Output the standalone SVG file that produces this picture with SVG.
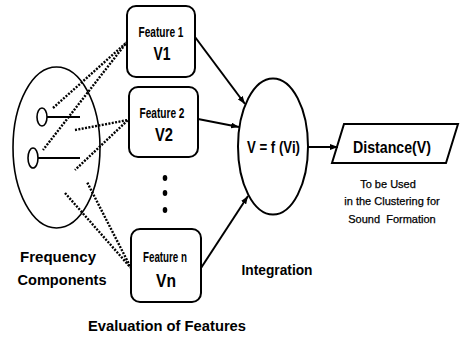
<svg xmlns="http://www.w3.org/2000/svg" width="460" height="339" viewBox="0 0 460 339">
  <style>
    .shape { fill: none; stroke: #000; stroke-width: 2; }
    .outline { fill: none; stroke: #000; stroke-width: 1.6; }
    .link { fill: none; stroke: #000; stroke-width: 2; }
    .dots { fill: none; stroke: #000; stroke-width: 2.4; stroke-dasharray: 2 1.4; }
    .thin { fill: none; stroke: #000; stroke-width: 1.6; }
    .label { font-family: "Liberation Sans", Arial, sans-serif; font-weight: bold; fill: #000; text-anchor: middle; }
    .note { font-family: "Liberation Sans", Arial, sans-serif; font-size: 11px; fill: #000; stroke: #000; stroke-width: 0.25; text-anchor: middle; }
  </style>
  <defs>
    <marker id="arrow" markerWidth="8" markerHeight="6" refX="8" refY="3" orient="auto" markerUnits="userSpaceOnUse">
      <path d="M0,0 L8,3 L0,6 Z" fill="#000"/>
    </marker>
  </defs>
  <rect width="460" height="339" fill="#fff"/>

  <!-- frequency components -->
  <g id="frequency-components">
    <ellipse class="outline" cx="56.5" cy="147.5" rx="43.5" ry="80.5"/>
    <ellipse class="thin" cx="42" cy="117" rx="5" ry="9"/>
    <line class="shape" x1="47" y1="117" x2="80" y2="117"/>
    <ellipse class="thin" cx="33" cy="158" rx="5" ry="10"/>
    <line class="shape" x1="38" y1="158" x2="80" y2="158"/>
    <text class="label" x="58" y="262" font-size="15.5" textLength="76" lengthAdjust="spacingAndGlyphs">Frequency</text>
    <text class="label" x="62" y="285" font-size="15.5" textLength="89" lengthAdjust="spacingAndGlyphs">Components</text>
  </g>

  <!-- feature boxes -->
  <g id="feature-1">
    <rect class="shape" x="127" y="6" width="68" height="71" rx="9"/>
    <text class="label" x="161" y="37" font-size="14" textLength="45" lengthAdjust="spacingAndGlyphs">Feature 1</text>
    <text class="label" x="162" y="60" font-size="17.5" textLength="17" lengthAdjust="spacingAndGlyphs">V1</text>
  </g>
  <g id="feature-2">
    <rect class="shape" x="129" y="87" width="69" height="70" rx="9"/>
    <text class="label" x="162" y="118" font-size="14" textLength="45" lengthAdjust="spacingAndGlyphs">Feature 2</text>
    <text class="label" x="164" y="141" font-size="17.5" textLength="18" lengthAdjust="spacingAndGlyphs">V2</text>
  </g>
  <g id="ellipsis">
    <ellipse cx="165" cy="178" rx="2.3" ry="3" fill="#000"/>
    <ellipse cx="165" cy="193" rx="2.3" ry="3" fill="#000"/>
    <ellipse cx="165" cy="210" rx="2.3" ry="3" fill="#000"/>
  </g>
  <g id="feature-n">
    <rect class="shape" x="131" y="229" width="70" height="73" rx="9"/>
    <text class="label" x="165" y="262" font-size="14" textLength="44" lengthAdjust="spacingAndGlyphs">Feature n</text>
    <text class="label" x="166" y="287" font-size="17.5" textLength="20" lengthAdjust="spacingAndGlyphs">Vn</text>
  </g>
  <text class="label" x="167" y="331" font-size="15.5" textLength="158" lengthAdjust="spacingAndGlyphs">Evaluation of Features</text>

  <!-- integration -->
  <g id="integration">
    <ellipse class="shape" cx="273" cy="146.5" rx="35" ry="68"/>
    <text class="label" x="273.5" y="153" font-size="17" textLength="53" lengthAdjust="spacingAndGlyphs">V = f (Vi)</text>
    <text class="label" x="277" y="275" font-size="15" textLength="71" lengthAdjust="spacingAndGlyphs">Integration</text>
  </g>

  <!-- distance output -->
  <g id="distance">
    <polygon class="shape" points="344,124 458,124 446,163 332,163"/>
    <text class="label" x="392" y="153" font-size="16.5" textLength="78" lengthAdjust="spacingAndGlyphs">Distance(V)</text>
    <text class="note" x="388" y="188">To be Used</text>
    <text class="note" x="392" y="205">in the Clustering for</text>
    <text class="note" x="392" y="223">Sound&#160; Formation</text>
  </g>

  <!-- connectors -->
  <g id="connectors">
    <polyline class="dots" points="53,108 127,42 43,150"/>
    <polyline class="dots" points="75,130 128,120 75,170"/>
    <polyline class="dots" points="65,193 131,268 87,182"/>
    <line class="link" x1="195" y1="37" x2="245" y2="104" marker-end="url(#arrow)"/>
    <line class="link" x1="198" y1="119" x2="239" y2="127" marker-end="url(#arrow)"/>
    <line class="link" x1="201" y1="268" x2="248" y2="196" marker-end="url(#arrow)"/>
    <line class="link" x1="308" y1="147" x2="338" y2="147" marker-end="url(#arrow)"/>
  </g>
</svg>
